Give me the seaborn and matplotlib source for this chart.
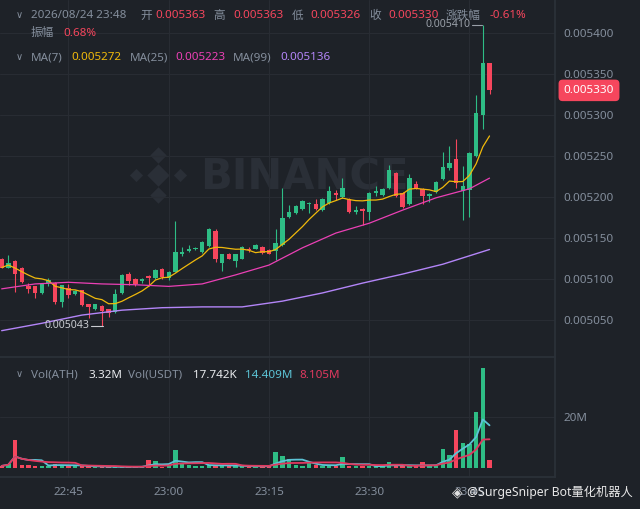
import numpy as np
import pandas as pd
import seaborn as sns
import matplotlib.pyplot as plt
import matplotlib.transforms as mtransforms

# 1-minute candles 22:35 .. 23:48, prices in units of 1e-6
times = pd.date_range('2026-08-24 22:35', periods=74, freq='min')
opens = [5124, 5114, 5122, 5114, 5092, 5091, 5083, 5095, 5095, 5072,
         5089, 5082, 5086, 5069, 5064, 5067, 5063, 5060, 5083, 5106,
         5100, 5098, 5104, 5101, 5112, 5101, 5109, 5130, 5134, 5136,
         5133, 5140, 5159, 5119, 5131, 5122, 5125, 5137, 5137, 5139,
         5135, 5134, 5142, 5176, 5181, 5185, 5192, 5192, 5184, 5193,
         5205, 5200, 5198, 5182, 5185, 5182, 5205, 5202, 5211, 5229,
         5205, 5192, 5216, 5210, 5201, 5206, 5222, 5235, 5246, 5207,
         5209, 5250, 5300, 5363]
highs = [5126, 5129, 5123, 5115, 5095, 5092, 5094, 5101, 5096, 5093,
         5094, 5087, 5087, 5070, 5070, 5068, 5064, 5088, 5106, 5109,
         5101, 5101, 5105, 5112, 5113, 5110, 5171, 5139, 5142, 5139,
         5146, 5162, 5161, 5131, 5132, 5131, 5140, 5139, 5143, 5140,
         5136, 5161, 5211, 5190, 5190, 5196, 5194, 5198, 5199, 5213,
         5209, 5223, 5199, 5189, 5186, 5206, 5213, 5211, 5239, 5231,
         5206, 5228, 5219, 5211, 5205, 5220, 5255, 5262, 5271, 5238,
         5255, 5324, 5410, 5363]
lows = [5113, 5113, 5084, 5095, 5083, 5077, 5082, 5092, 5070, 5066,
        5077, 5080, 5067, 5052, 5062, 5043, 5054, 5059, 5082, 5093,
        5092, 5095, 5092, 5100, 5100, 5099, 5108, 5128, 5133, 5135,
        5132, 5139, 5121, 5110, 5124, 5115, 5124, 5133, 5136, 5130,
        5130, 5123, 5140, 5174, 5179, 5184, 5181, 5184, 5183, 5192,
        5196, 5199, 5180, 5179, 5166, 5172, 5201, 5201, 5210, 5200,
        5186, 5190, 5210, 5192, 5194, 5205, 5221, 5233, 5211, 5172,
        5176, 5249, 5283, 5326]
closes = [5114, 5120, 5106, 5096, 5088, 5083, 5094, 5099, 5072, 5093,
          5081, 5085, 5068, 5066, 5070, 5061, 5058, 5082, 5105, 5098,
          5094, 5100, 5101, 5111, 5102, 5109, 5133, 5133, 5137, 5138,
          5145, 5161, 5124, 5131, 5125, 5130, 5139, 5135, 5141, 5132,
          5131, 5144, 5174, 5182, 5189, 5195, 5193, 5185, 5198, 5207,
          5202, 5211, 5182, 5184, 5183, 5205, 5207, 5210, 5233, 5201,
          5188, 5223, 5211, 5201, 5204, 5218, 5237, 5242, 5217, 5213,
          5254, 5302, 5363, 5330]
# volume, millions of ATH
volumes = [0.9, 1.8, 10.9, 1.1, 1.3, 1.0, 1.0, 0.9, 1.8, 1.3,
           0.8, 0.8, 0.8, 0.8, 0.6, 0.5, 0.4, 0.5, 0.6, 0.6,
           0.5, 0.6, 3.1, 2.9, 0.4, 1.0, 7.0, 1.6, 1.2, 1.0,
           1.0, 1.2, 1.3, 1.0, 0.9, 0.8, 0.8, 0.6, 0.8, 0.8,
           0.8, 6.2, 4.9, 3.5, 1.2, 0.9, 1.9, 1.3, 1.0, 0.8,
           0.8, 4.5, 0.8, 1.0, 0.7, 0.8, 0.7, 1.0, 2.3, 0.9,
           0.8, 0.8, 0.7, 2.3, 0.9, 1.0, 7.4, 5.0, 14.7, 9.8,
           9.2, 21.8, 39.0, 3.32]

# moving averages (candle index, price e-6)
ma25_idx = [0, 5, 10, 15, 20, 25, 30, 35, 40, 45, 50, 55, 60, 65, 70, 73]
ma25_val = [5088, 5094, 5096, 5094, 5093, 5091, 5094, 5105, 5117, 5138,
            5156, 5168, 5184, 5199, 5210, 5223]
ma99_idx = [0, 6, 12, 18, 24, 30, 36, 42, 48, 54, 60, 66, 73]
ma99_val = [5037, 5046, 5056, 5062, 5065, 5066, 5066, 5073, 5083, 5095,
            5106, 5118, 5136]

BG = '#1e2228'
GRID = '#282c33'
TXT = '#848e9c'
UP = '#2ebd85'
DOWN = '#f6465d'

sns.set_theme(style='dark', rc={'axes.facecolor': BG, 'figure.facecolor': BG})
plt.rcParams['font.family'] = ['Noto Sans', 'Noto Sans CJK SC', 'DejaVu Sans']

df = pd.DataFrame({'t': times, 'o': np.array(opens) * 1e-6, 'h': np.array(highs) * 1e-6,
                   'l': np.array(lows) * 1e-6, 'c': np.array(closes) * 1e-6,
                   'v': volumes})
df['i'] = np.arange(len(df))
df['ma7'] = df['c'].rolling(7, min_periods=1).mean()
df['vma5'] = df['v'].rolling(5, min_periods=1).mean()
df['vma10'] = df['v'].rolling(10, min_periods=1).mean()
cols = np.where(df['c'] >= df['o'], UP, DOWN)

W, H = 640, 509
fig = plt.figure(figsize=(6.4, 5.09), dpi=100)
ax = fig.add_axes([0, 1 - 357 / H, 555 / W, 357 / H])
vax = fig.add_axes([0, 1 - 477 / H, 555 / W, 119 / H], sharex=ax)

xlim = (-0.25, 82.8)
tick_idx = df.index[df['t'].dt.minute % 15 == 0].tolist()

# price panel
body = np.maximum((df['c'] - df['o']).abs(), 0.7e-6)
ax.vlines(df['i'], df['l'], df['h'], colors=cols, lw=0.8, zorder=3)
ax.bar(df['i'], body, bottom=np.minimum(df['o'], df['c']), width=0.66,
       color=cols, linewidth=0, edgecolor='none', zorder=3)
sns.lineplot(x=df['i'], y=df['ma7'], ax=ax, color='#f0b90b', lw=0.9, zorder=4)
sns.lineplot(x=ma25_idx, y=np.array(ma25_val) * 1e-6, ax=ax, color='#eb40b5', lw=0.9, zorder=4)
sns.lineplot(x=ma99_idx, y=np.array(ma99_val) * 1e-6, ax=ax, color='#b385f8', lw=1.0, zorder=4)

ax.set_xlim(*xlim)
ax.set_ylim(0.0050049, 0.0054402)
ax.set_yticks(np.arange(0.00505, 0.0054001, 0.00005))
ax.set_yticklabels([f'{v:.6f}' for v in np.arange(0.00505, 0.0054001, 0.00005)])
ax.yaxis.tick_right()
ax.tick_params(axis='y', length=0, pad=6, labelcolor=TXT, labelsize=8.4)
ax.tick_params(axis='x', length=0, labelbottom=False)
ax.set_xticks(tick_idx)
ax.grid(True, color=GRID, lw=0.8)
ax.set_xlabel('')
ax.set_ylabel('')
for s in ['left', 'top']:
    ax.spines[s].set_visible(False)
for s in ['right', 'bottom']:
    ax.spines[s].set_color('#2b3139')

# watermark
ax.text(200 / 555, 1 - 178 / 357, 'BINANCE', transform=ax.transAxes, fontsize=30,
        fontweight='bold', family='DejaVu Sans', color='#2a2f37', va='center', ha='left', zorder=0.5)
for dx, dy, s in [(0, 0, 130), (-22, 0, 45), (22, 0, 45), (0, -20, 70), (0, 20, 70)]:
    ax.scatter((158 + dx) / 555, 1 - (175 + dy) / 357, marker='D', s=s, color='#2a2f37',
               transform=ax.transAxes, zorder=0.5, linewidths=0)

# high / low markers
hi = df['h'].idxmax()
lo = df['l'].idxmin()
ax.plot([hi - 1.6, hi - 0.1], [df['h'][hi]] * 2, color='#9aa0a8', lw=0.8, zorder=5)
ax.text(hi - 1.9, df['h'][hi], f"{df['h'][hi]:.6f}", color='#9aa0a8', fontsize=7.6,
        ha='right', va='center', zorder=5)
ax.plot([lo - 1.6, lo + 0.2], [df['l'][lo]] * 2, color='#c9ccd1', lw=0.8, zorder=5)
ax.text(lo - 1.9, df['l'][lo], f"{df['l'][lo]:.6f}", color='#c9ccd1', fontsize=7.6,
        ha='right', va='center', zorder=5)

# last price tag
tr = mtransforms.blended_transform_factory(ax.transAxes, ax.transData)
ax.text(589 / 555, df['c'].iloc[-1], f"{df['c'].iloc[-1]:.6f}", transform=tr, color='white',
        fontsize=8.4, ha='center', va='center', clip_on=False, zorder=6,
        bbox=dict(boxstyle='round,pad=0.45,rounding_size=0.35', fc=DOWN, ec='none'))

# volume panel
vax.bar(df['i'], df['v'], width=0.66, color=cols, linewidth=0, edgecolor='none', zorder=3)
sns.lineplot(x=df['i'], y=df['vma5'], ax=vax, color='#5cc4d6', lw=1.3, zorder=4)
sns.lineplot(x=df['i'], y=df['vma10'], ax=vax, color='#e0395f', lw=1.3, zorder=4)
vax.set_ylim(-3.4, 42.7)
vax.set_yticks([20])
vax.set_yticklabels(['20M'])
vax.yaxis.tick_right()
vax.tick_params(axis='y', length=0, pad=6, labelcolor=TXT, labelsize=8.4)
vax.set_xticks(tick_idx)
vax.set_xticklabels([df['t'][k].strftime('%H:%M') for k in tick_idx])
vax.tick_params(axis='x', length=0, pad=7, labelcolor=TXT, labelsize=8.4)
vax.set_xlim(*xlim)
vax.grid(True, color=GRID, lw=0.8)
vax.set_xlabel('')
vax.set_ylabel('')
for s in ['left', 'top']:
    vax.spines[s].set_visible(False)
for s in ['right', 'bottom']:
    vax.spines[s].set_color('#2b3139')


def put(x, y, s, c, size=8.4, **kw):
    fig.text(x / W, 1 - y / H, s, color=c, fontsize=size, ha='left', va='center', **kw)


# header rows
put(16, 15, '∨', TXT, size=7, family='DejaVu Sans')
put(31, 16, '2026/08/24 23:48', TXT)
for x, lab in [(140, '开'), (213, '高'), (292, '低'), (369, '收'), (446, '涨跌幅')]:
    put(x, 16, lab, TXT)
for x, val in [(155, '0.005363'), (233, '0.005363'), (310, '0.005326'), (388, '0.005330'),
               (490, '-0.61%')]:
    put(x, 16, val, DOWN)
put(31, 33, '振幅', TXT)
put(63, 33, '0.68%', DOWN)

put(16, 57, '∨', TXT, size=7, family='DejaVu Sans')
put(31, 58, 'MA(7)', TXT)
put(71, 58, '0.005272', '#f0b90b')
put(130, 58, 'MA(25)', TXT)
put(175, 58, '0.005223', '#eb40b5')
put(233, 58, 'MA(99)', TXT)
put(280, 58, '0.005136', '#b385f8')

put(16, 374, '∨', TXT, size=7, family='DejaVu Sans')
put(31, 375, 'Vol(ATH)', TXT)
put(88, 375, '3.32M', '#eaecef')
put(128, 375, 'Vol(USDT)', TXT)
put(193, 375, '17.742K', '#eaecef')
put(245, 375, '14.409M', '#5cc4d6')
put(299, 375, '8.105M', '#e0395f')

# credit watermark
put(452, 492, '◈', '#e0e0e0', size=10, family='DejaVu Sans')
put(467, 492, '@SurgeSniper Bot量化机器人', '#e8e8e8', size=8.8)

fig.savefig('out.png', dpi=100, facecolor=BG)
